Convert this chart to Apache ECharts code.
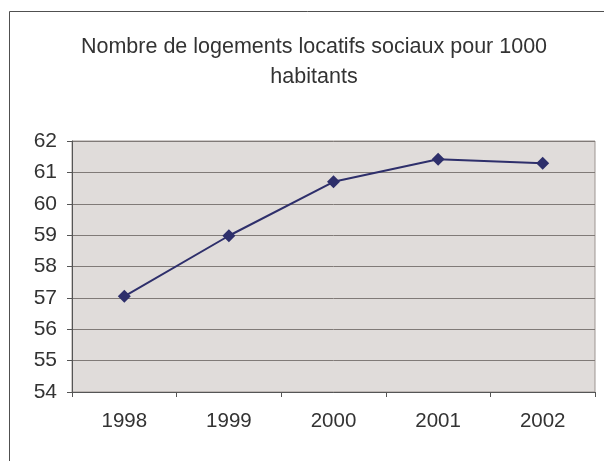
<!DOCTYPE html>
<html>
<head>
<meta charset="utf-8">
<script src="https://cdn.jsdelivr.net/npm/echarts@6/dist/echarts.min.js"></script>
<style>
  html, body { margin: 0; padding: 0; background: #fff; }
  #chart { width: 604px; height: 461px; }
</style>
</head>
<body>
<div id="chart"></div>
<script>
// Logements locatifs sociaux pour 1000 habitants
const years = ["1998", "1999", "2000", "2001", "2002"];
const logements = [57.05, 58.98, 60.7, 61.42, 61.29];
const titleText = "Nombre de logements locatifs sociaux pour 1000\nhabitants";

const chart = echarts.init(document.getElementById("chart"));
const fontFamily = "Liberation Sans, Arial, sans-serif";

const option = {
  animation: false,
  backgroundColor: "#fff",
  title: {
    text: titleText,
    left: 309,
    top: 27,
    textAlign: "center",
    textStyle: {
      fontFamily: fontFamily,
      fontSize: 21.5,
      fontWeight: "normal",
      color: "#333",
      lineHeight: 30
    }
  },
  // cadre extérieur du graphique
  graphic: [
    {
      type: "rect",
      shape: { x: 9.5, y: 11.5, width: 700, height: 600 },
      style: { fill: "none", stroke: "#505050", lineWidth: 1 },
      silent: true
    }
  ],
  grid: {
    left: 72,
    top: 141,
    right: 9,
    bottom: 69,
    show: true,
    backgroundColor: "#e0dcda",
    borderColor: "#9d9591",
    borderWidth: 1
  },
  xAxis: {
    type: "category",
    data: years,
    boundaryGap: true,
    axisLine: { show: true, lineStyle: { color: "#555", width: 1 } },
    axisTick: { show: true, length: 5, inside: false, lineStyle: { color: "#555" } },
    axisLabel: {
      margin: 19,
      fontFamily: fontFamily,
      fontSize: 20.5,
      color: "#333"
    },
    splitLine: { show: false }
  },
  yAxis: {
    type: "value",
    min: 54,
    max: 62,
    interval: 1,
    axisLine: { show: true, lineStyle: { color: "#555", width: 1 } },
    axisTick: { show: true, length: 5, lineStyle: { color: "#555" } },
    axisLabel: {
      margin: 15,
      fontFamily: fontFamily,
      fontSize: 21,
      color: "#333"
    },
    splitLine: { show: true, lineStyle: { color: "#807a77", width: 1, type: "solid" } }
  },
  series: [
    {
      type: "line",
      data: logements,
      symbol: "diamond",
      symbolSize: 13,
      lineStyle: { color: "#2e2f6b", width: 2 },
      itemStyle: { color: "#2e2f6b", borderWidth: 0 }
    }
  ]
};

chart.setOption(option);
</script>
</body>
</html>
